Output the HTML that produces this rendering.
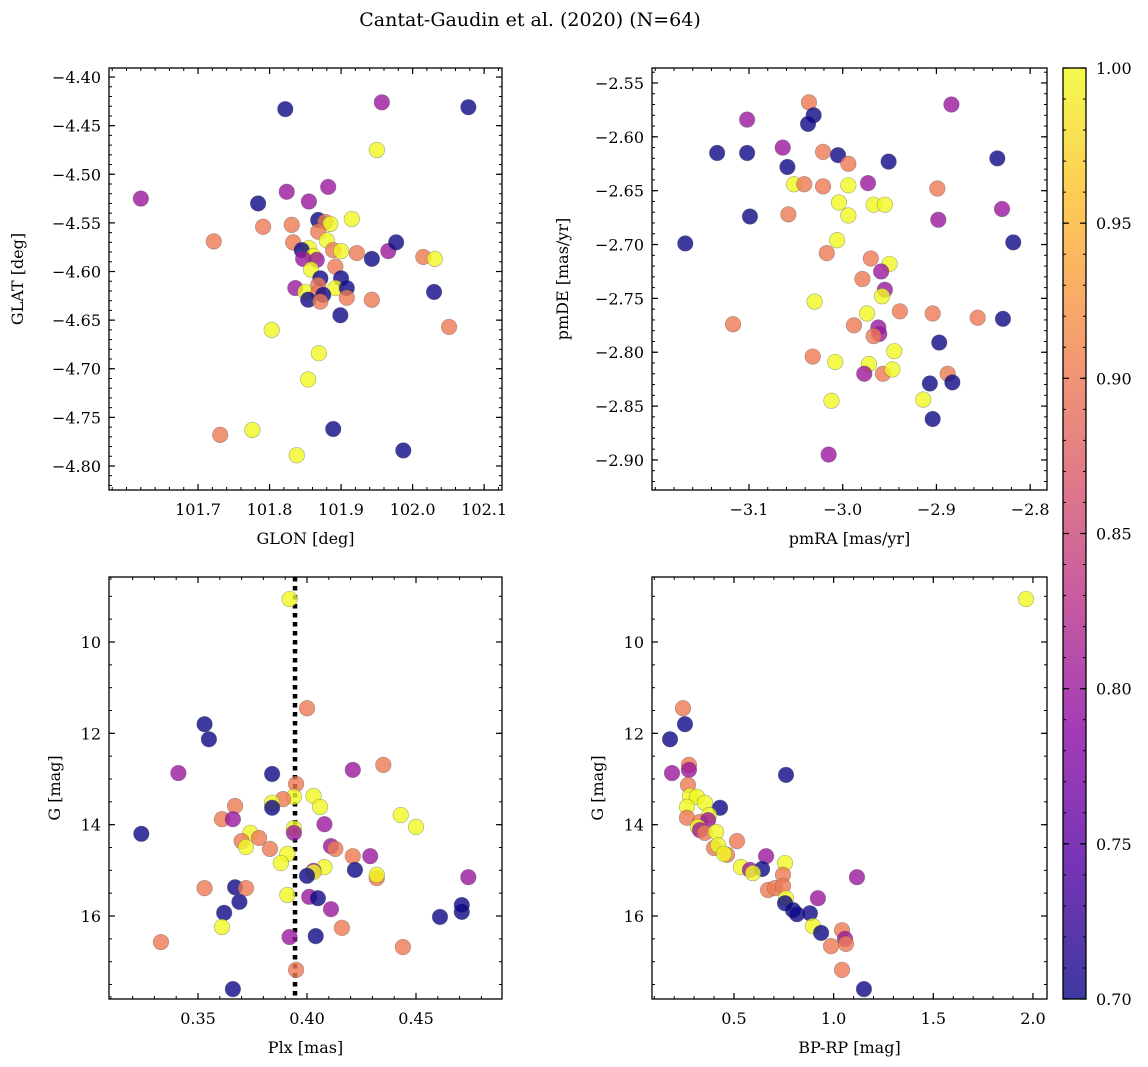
<!DOCTYPE html>
<html><head><meta charset="utf-8">
<style>
html,body{margin:0;padding:0;background:#fff;}
svg{display:block;font-family:"DejaVu Serif","Liberation Serif",serif;}
</style></head>
<body>
<svg id="fig" width="1148" height="1067" viewBox="0 0 1148 1067" xmlns="http://www.w3.org/2000/svg">
<text x="530" y="26" font-size="19" text-anchor="middle">Cantat-Gaudin et al. (2020) (N=64)</text>
</svg>
<script>
// ---- Panel 1: GLON / GLAT ----
const p1Glon=[101.824,101.882,101.855,101.868,101.878,101.885,101.915,101.831,101.868,101.880,101.833,101.855,101.845,101.889,101.900,101.922,101.861,101.847,101.866,101.943,101.966,101.977,102.015,102.031,101.892,101.858,101.871,101.900,101.836,101.850,101.868,101.892,101.908,101.868,101.875,101.854,101.871,101.908,101.943,102.030,101.899,102.051,101.869,101.803,101.854,101.731,101.776,101.838,101.889,101.987,101.620,101.722,101.822,101.957,102.078,101.950,101.784,101.791];
const p1Glat=[-4.518,-4.513,-4.528,-4.547,-4.549,-4.551,-4.546,-4.552,-4.559,-4.568,-4.570,-4.576,-4.578,-4.578,-4.579,-4.581,-4.584,-4.587,-4.588,-4.587,-4.579,-4.570,-4.585,-4.587,-4.595,-4.598,-4.607,-4.607,-4.617,-4.621,-4.614,-4.617,-4.617,-4.622,-4.624,-4.629,-4.631,-4.627,-4.629,-4.621,-4.645,-4.657,-4.684,-4.660,-4.711,-4.768,-4.763,-4.789,-4.762,-4.784,-4.525,-4.569,-4.433,-4.426,-4.431,-4.475,-4.530,-4.554];
const p1Prob=[0.80,0.80,0.80,0.70,0.90,1.00,1.00,0.90,0.90,1.00,0.90,1.00,0.70,0.90,1.00,0.90,1.00,0.80,0.80,0.70,0.80,0.70,0.90,1.00,0.90,1.00,0.70,0.70,0.80,1.00,0.90,1.00,0.70,0.90,0.70,0.70,0.90,0.90,0.90,0.70,0.70,0.90,1.00,1.00,1.00,0.90,1.00,1.00,0.70,0.70,0.80,0.90,0.70,0.80,0.70,1.00,0.70,0.90];
const p1XTicks=[101.7,101.8,101.9,102.0,102.1];
const p1YTicks=[-4.40,-4.45,-4.50,-4.55,-4.60,-4.65,-4.70,-4.75,-4.80];
// ---- Panel 2: pmRA / pmDE ----
const p2PmRA=[-3.036,-3.031,-3.037,-3.102,-2.884,-3.134,-3.102,-3.064,-3.021,-3.005,-2.994,-2.951,-2.835,-3.059,-3.052,-3.041,-3.021,-2.994,-2.973,-2.899,-3.004,-2.967,-2.955,-2.994,-3.099,-3.058,-2.898,-2.830,-3.168,-2.818,-3.006,-3.017,-2.970,-2.950,-2.959,-2.979,-2.955,-2.958,-3.030,-2.974,-2.939,-2.904,-2.856,-2.829,-3.117,-2.988,-2.962,-2.961,-2.967,-2.897,-2.945,-3.032,-3.008,-2.972,-2.977,-2.957,-2.947,-2.888,-2.883,-2.907,-2.914,-3.012,-2.904,-3.015];
const p2PmDE=[-2.568,-2.580,-2.588,-2.584,-2.570,-2.615,-2.615,-2.610,-2.614,-2.617,-2.625,-2.623,-2.620,-2.628,-2.644,-2.644,-2.646,-2.645,-2.643,-2.648,-2.661,-2.663,-2.663,-2.673,-2.674,-2.672,-2.677,-2.667,-2.699,-2.698,-2.696,-2.708,-2.713,-2.718,-2.725,-2.732,-2.742,-2.748,-2.753,-2.764,-2.762,-2.764,-2.768,-2.769,-2.774,-2.775,-2.777,-2.783,-2.785,-2.791,-2.799,-2.804,-2.809,-2.811,-2.820,-2.820,-2.816,-2.820,-2.828,-2.829,-2.844,-2.845,-2.862,-2.895];
const p2Prob=[0.90,0.70,0.70,0.80,0.80,0.70,0.70,0.80,0.90,0.70,0.90,0.70,0.70,0.70,1.00,0.90,0.90,1.00,0.80,0.90,1.00,1.00,1.00,1.00,0.70,0.90,0.80,0.80,0.70,0.70,1.00,0.90,0.90,1.00,0.80,0.90,0.80,1.00,1.00,1.00,0.90,0.90,0.90,0.70,0.90,0.90,0.80,0.80,0.90,0.70,1.00,0.90,1.00,1.00,0.80,0.90,1.00,0.90,0.70,0.70,1.00,1.00,0.70,0.80];
const p2XTicks=[-3.1,-3.0,-2.9,-2.8];
const p2YTicks=[-2.55,-2.60,-2.65,-2.70,-2.75,-2.80,-2.85,-2.90];
// ---- Panel 3: Plx / G ----
const p3Plx=[0.392,0.400,0.353,0.355,0.341,0.384,0.421,0.435,0.395,0.394,0.389,0.384,0.384,0.403,0.406,0.367,0.361,0.366,0.374,0.378,0.370,0.372,0.383,0.394,0.394,0.408,0.443,0.450,0.411,0.413,0.421,0.429,0.391,0.388,0.408,0.403,0.403,0.400,0.422,0.432,0.432,0.474,0.324,0.353,0.367,0.372,0.369,0.362,0.361,0.391,0.401,0.405,0.411,0.461,0.471,0.471,0.416,0.333,0.392,0.404,0.444,0.395,0.366];
const p3G=[9.06,11.45,11.80,12.13,12.87,12.89,12.80,12.69,13.11,13.39,13.44,13.52,13.63,13.37,13.61,13.59,13.88,13.88,14.18,14.29,14.36,14.49,14.53,14.08,14.18,13.99,13.79,14.05,14.47,14.53,14.69,14.69,14.64,14.84,14.93,15.01,15.04,15.12,14.99,15.17,15.10,15.15,14.20,15.39,15.37,15.39,15.69,15.93,16.24,15.54,15.58,15.61,15.85,16.02,15.91,15.76,16.26,16.57,16.46,16.44,16.68,17.18,17.60];
const p3Prob=[1.00,0.90,0.70,0.70,0.80,0.70,0.80,0.90,0.90,1.00,0.90,1.00,0.70,1.00,1.00,0.90,0.90,0.80,1.00,0.90,0.90,1.00,0.90,1.00,0.80,0.80,1.00,1.00,0.80,0.90,0.90,0.80,1.00,1.00,1.00,0.80,1.00,0.70,0.70,0.90,1.00,0.80,0.70,0.90,0.70,0.90,0.70,0.70,1.00,1.00,0.80,0.70,0.80,0.70,0.70,0.70,0.90,0.90,0.80,0.70,0.90,0.90,0.70];
const p3XTicks=[0.35,0.40,0.45];
const p3YTicks=[10,12,14,16];
const plxMean=0.3945;
// ---- Panel 4: BP-RP / G ----
const p4Color=[0.244,0.254,0.179,0.189,0.274,0.274,0.761,0.269,0.279,0.314,0.354,0.430,0.264,0.264,0.375,0.329,0.370,0.319,0.329,0.354,0.410,0.400,0.420,0.465,0.450,0.515,0.661,0.756,0.535,0.580,0.641,0.595,0.746,0.671,0.706,0.746,0.761,0.756,0.796,0.816,0.881,0.921,0.896,0.937,0.987,1.042,1.057,1.062,1.042,1.117,1.152,1.965];
const p4G=[11.45,11.80,12.13,12.87,12.69,12.80,12.91,13.13,13.37,13.39,13.52,13.63,13.61,13.85,13.79,13.94,13.90,14.05,14.12,14.18,14.16,14.51,14.45,14.66,14.64,14.36,14.69,14.84,14.93,14.99,14.97,15.06,15.10,15.43,15.39,15.34,15.61,15.72,15.87,15.96,15.94,15.61,16.22,16.37,16.66,16.31,16.50,16.61,17.18,15.15,17.60,9.06];
const p4Prob=[0.90,0.70,0.70,0.80,0.90,0.80,0.70,0.90,1.00,1.00,1.00,0.70,1.00,0.90,1.00,0.90,0.80,1.00,0.80,0.90,1.00,0.90,1.00,0.90,1.00,0.90,0.80,1.00,1.00,0.80,0.70,1.00,0.90,0.90,0.90,0.90,1.00,0.70,0.70,0.70,0.70,0.80,1.00,0.70,0.90,0.90,0.80,0.90,0.90,0.80,0.70,1.00];
const p4XTicks=[0.5,1.0,1.5,2.0];
const p4YTicks=[10,12,14,16];
const cbTicks=[0.70,0.75,0.80,0.85,0.90,0.95,1.00];

const NS="http://www.w3.org/2000/svg";
const svg=document.getElementById('fig');
const plasma=[[13,8,135],[84,2,163],[139,10,165],[185,50,137],[219,92,104],[244,136,73],[254,188,43],[240,249,33]];
function cmap(v){let t=Math.max(0,Math.min(1,(v-0.7)/0.3))*(plasma.length-1);let i=Math.min(Math.floor(t),plasma.length-2);let f=t-i;let c=plasma[i].map((a,k)=>Math.round(a+(plasma[i+1][k]-a)*f));return `rgb(${c[0]},${c[1]},${c[2]})`;}
function mk(tag,attrs,parent){const e=document.createElementNS(NS,tag);for(const k in attrs)e.setAttribute(k,attrs[k]);(parent||svg).appendChild(e);return e;}
function lin(d0,d1,r0,r1){return v=>r0+(v-d0)/(d1-d0)*(r1-r0);}
function fmt(v,dec){return (v<0?'\u2212':'')+Math.abs(v).toFixed(dec);}

function panel(cfg){
  const g=mk('g',{});
  
  
  const sx=lin(cfg.xd[0],cfg.xd[1],cfg.L,cfg.R), sy=lin(cfg.yd[0],cfg.yd[1],cfg.T,cfg.B);
  const mt=mk('g',{stroke:'#000','stroke-width':1},g);
  
  
  const xlo=Math.min(...cfg.xd),xhi=Math.max(...cfg.xd),ylo=Math.min(...cfg.yd),yhi=Math.max(...cfg.yd);
  for(let k=Math.ceil(xlo/cfg.xm-1e-9);k*cfg.xm<=xhi+1e-9;k++){const x=sx(k*cfg.xm);mk('line',{x1:x,x2:x,y1:cfg.B,y2:cfg.B-3},mt);mk('line',{x1:x,x2:x,y1:cfg.T,y2:cfg.T+3},mt);}
  for(let k=Math.ceil(ylo/cfg.ym-1e-9);k*cfg.ym<=yhi+1e-9;k++){const y=sy(k*cfg.ym);mk('line',{x1:cfg.L,x2:cfg.L+3,y1:y,y2:y},mt);mk('line',{x1:cfg.R,x2:cfg.R-3,y1:y,y2:y},mt);}
  cfg.xt.forEach(v=>{const x=sx(v);mk('line',{x1:x,x2:x,y1:cfg.B,y2:cfg.B-6,stroke:'#000','stroke-width':1.2},g);mk('line',{x1:x,x2:x,y1:cfg.T,y2:cfg.T+6,stroke:'#000','stroke-width':1.2},g);
    const t=mk('text',{x:x,y:cfg.B+25,'font-size':16,'text-anchor':'middle'},g);t.textContent=fmt(v,cfg.xdec);
    });
  cfg.yt.forEach(v=>{const y=sy(v);mk('line',{x1:cfg.L,x2:cfg.L+6,y1:y,y2:y,stroke:'#000','stroke-width':1.2},g);mk('line',{x1:cfg.R,x2:cfg.R-6,y1:y,y2:y,stroke:'#000','stroke-width':1.2},g);
    const t=mk('text',{x:cfg.L-8,y:y+6,'font-size':16,'text-anchor':'end'},g);t.textContent=fmt(v,cfg.ydec);
    });
  if(cfg.vline!==undefined){const x=sx(cfg.vline);const l=mk('line',{x1:x,x2:x,y1:cfg.T,y2:cfg.B,stroke:'#000','stroke-width':4.5,'stroke-dasharray':'4.5,4.5'},g);
    }
  const pts=mk('g',{},g);
  
  
  for(let i=0;i<cfg.x.length;i++){
    const c=mk('circle',{cx:sx(cfg.x[i]),cy:sy(cfg.y[i]),r:7.8,fill:cmap(cfg.c[i]),'fill-opacity':0.8,stroke:'#555','stroke-opacity':0.5,'stroke-width':0.6},pts);
    
    
  }
  const fr=mk('rect',{x:cfg.L,y:cfg.T,width:cfg.R-cfg.L,height:cfg.B-cfg.T,fill:'none',stroke:'#000','stroke-width':1.3},g);
  
  const xl=mk('text',{x:(cfg.L+cfg.R)/2,y:cfg.B+54,'font-size':16,'text-anchor':'middle'},g);xl.textContent=cfg.xlab;
  
  const yx=cfg.ylx, yy=(cfg.T+cfg.B)/2;
  const yl=mk('text',{x:yx,y:yy,'font-size':16,'text-anchor':'middle',transform:`rotate(-90 ${yx} ${yy})`},g);yl.textContent=cfg.ylab;
  
}
panel({name:'glon-glat-panel',L:109,R:502,T:68,B:490,xd:[101.5755,102.125],yd:[-4.3907,-4.8247],xt:p1XTicks,yt:p1YTicks,xm:0.02,ym:0.01,xdec:1,ydec:2,x:p1Glon,y:p1Glat,c:p1Prob,xlab:'GLON [deg]',ylab:'GLAT [deg]',ylx:23});
panel({name:'proper-motion-panel',L:652,R:1047,T:68,B:490,xd:[-3.2035,-2.782],yd:[-2.5361,-2.9279],xt:p2XTicks,yt:p2YTicks,xm:0.02,ym:0.01,xdec:1,ydec:2,x:p2PmRA,y:p2PmDE,c:p2Prob,xlab:'pmRA [mas/yr]',ylab:'pmDE [mas/yr]',ylx:568});
panel({name:'parallax-mag-panel',L:109,R:502,T:577,B:999,xd:[0.30917,0.48945],yd:[8.577,17.817],xt:p3XTicks,yt:p3YTicks,xm:0.01,ym:0.5,xdec:2,ydec:0,x:p3Plx,y:p3G,c:p3Prob,xlab:'Plx [mas]',ylab:'G [mag]',ylx:60,vline:plxMean});
panel({name:'cmd-panel',L:652,R:1047,T:577,B:999,xd:[0.0886,2.0705],yd:[8.577,17.817],xt:p4XTicks,yt:p4YTicks,xm:0.1,ym:0.5,xdec:1,ydec:0,x:p4Color,y:p4G,c:p4Prob,xlab:'BP-RP [mag]',ylab:'G [mag]',ylx:603});

const cb=mk('g',{});


const defs=mk('defs',{},cb);
const grad=mk('linearGradient',{id:'pl',x1:0,y1:1,x2:0,y2:0},defs);
plasma.forEach((c,i)=>mk('stop',{offset:i/(plasma.length-1),'stop-color':`rgb(${c[0]},${c[1]},${c[2]})`,'stop-opacity':0.8},grad));
const cbT=68,cbB=999,cbL=1063,cbR=1086;
mk('rect',{x:cbL,y:cbT,width:cbR-cbL,height:cbB-cbT,fill:'url(#pl)',stroke:'#000','stroke-width':1.3},cb);
const cs=lin(0.7,1.0,cbB,cbT);
for(let k=70;k<=100;k++){const y=cs(k/100);mk('line',{x1:cbR,x2:cbR-3,y1:y,y2:y,stroke:'#000','stroke-width':1},cb);mk('line',{x1:cbL,x2:cbL+3,y1:y,y2:y,stroke:'#000','stroke-width':1},cb);}
cbTicks.forEach(v=>{const y=cs(v);mk('line',{x1:cbR,x2:cbR-6,y1:y,y2:y,stroke:'#000','stroke-width':1.2},cb);mk('line',{x1:cbL,x2:cbL+6,y1:y,y2:y,stroke:'#000','stroke-width':1.2},cb);
  const t=mk('text',{x:cbR+10,y:y+6,'font-size':16},cb);t.textContent=v.toFixed(2);
  });
</script>
</body></html>
